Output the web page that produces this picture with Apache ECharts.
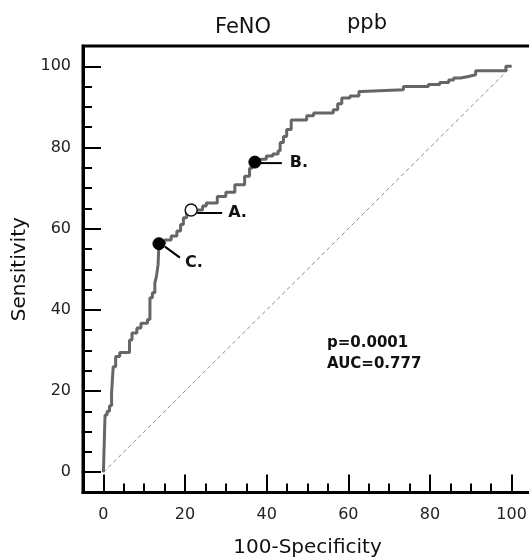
<!DOCTYPE html>
<html><head><meta charset="utf-8">
<script src="https://cdn.jsdelivr.net/npm/echarts@6/dist/echarts.min.js"></script>
<style>html,body{margin:0;padding:0;background:#fff}#c{width:529px;height:558px}</style>
</head><body><div id="c"></div>
<script>
// ROC curve vertices (100-Specificity, Sensitivity)
const rocPoints = [
 [0,0],[0.4,0],[0.4,14.1],[0.9,14.1],[0.9,15],[1.5,15],[1.5,16.4],[2.0,16.4],[2.0,19.5],[2.4,19.5],[2.4,26],[3.0,26],[3.0,28.5],[4.0,28.5],[4.0,29.5],[6.4,29.5],[6.4,32.6],[7.0,32.6],[7.0,34.3],[8.2,34.3],[8.2,35.5],[9.2,35.5],[9.2,36.7],[10.8,36.7],[10.8,37.6],[11.4,37.6],[11.4,43],[12.0,43],[12.0,44.2],[12.6,44.2],[12.6,46.6],[13.0,46.6],[13.0,48.3],[13.4,48.3],[13.4,51.2],[13.6,51.2],[13.6,56.3],
 [15.0,56.3],[15.0,57.2],[16.6,57.2],[16.6,58.2],[18.0,58.2],[18.0,59.4],[18.9,59.4],[18.9,61],[19.6,61],[19.6,62.7],[20.4,62.7],[20.4,64.6],[24.3,64.6],[24.3,65.6],[25.2,65.6],[25.2,66.3],[27.9,66.3],[27.9,67.9],[30.0,67.9],[30.0,69.0],[32.2,69.0],[32.2,70.8],[34.6,70.8],[34.6,72.9],[35.8,72.9],[35.8,74.9],[36.4,74.9],[36.4,76.4],[38.3,76.4],[38.3,77.1],[39.9,77.1],[39.9,77.9],[41.5,77.9],[41.5,78.4],[42.8,78.4],[42.8,79.2],[43.3,79.2],[43.3,81.2],[44.1,81.2],[44.1,82.7],[44.9,82.7],[44.9,84.4],[46.0,84.4],[46.0,86.8],[49.8,86.8],[49.8,87.8],[51.5,87.8],[51.5,88.5],[56.3,88.5],[56.3,89.3],[57.4,89.3],[57.4,90.8],[58.4,90.8],[58.4,92.2],[60.4,92.2],[60.4,92.7],[62.6,92.7],[62.6,93.8],[63.3,93.8],[63.3,94.2],[73.5,94.2],[73.5,95.0],[79.6,95.0],[79.6,95.5],[82.4,95.5],[82.4,96.0],[84.6,96.0],[84.6,96.6],[85.8,96.6],[85.8,97.1],[87.5,97.1],[87.5,97.5],[89.4,97.5],[89.4,97.9],[91.2,97.9],[91.2,98.9],[98.6,98.9],[98.6,100],[100,100]
];
const diagonal = [[0,0],[100,100]];
const cutLabels = ['C.','A.','B.'];
const cutX = [13.6, 21.5, 37.1];
const cutY = [56.3, 64.6, 76.4];
const cutFilled = [true, false, true];
const majorTicks = [0,20,40,60,80,100];
const minorTicks = [5,10,15,25,30,35,45,50,55,65,70,75,85,90,95];
const statsLines = ['p=0.0001','AUC=0.777'];
const titleParts = ['FeNO','ppb'];
const xName = '100-Specificity';
const yName = 'Sensitivity';

const FF = 'DejaVu Sans';
const chart = echarts.init(document.getElementById('c'), null, {renderer:'canvas'});
const gridBox = {left:83, top:46, width:449, height:446.5, outerBoundsMode:'none', containLabel:false};
const axisBase = {type:'value', min:-5, max:105, splitLine:{show:false}};
const lbl = {fontSize:16, color:'#222', fontFamily:FF};

const option = {
  animation:false,
  backgroundColor:'#fff',
  grid:[
    Object.assign({show:true, borderColor:'#000', borderWidth:3, backgroundColor:'transparent'}, gridBox),
    Object.assign({show:false}, gridBox)
  ],
  xAxis:[
    Object.assign({}, axisBase, {gridIndex:0, position:'bottom',
      axisLine:{onZero:false, lineStyle:{color:'#000', width:3}},
      axisTick:{inside:true, length:18, customValues:majorTicks, lineStyle:{color:'#000', width:2}},
      axisLabel:Object.assign({customValues:majorTicks, margin:14}, lbl),
      name:xName, nameLocation:'middle', nameGap:45,
      nameTextStyle:{fontSize:20, color:'#111', fontFamily:FF}}),
    Object.assign({}, axisBase, {gridIndex:1, position:'bottom',
      axisLine:{show:false, onZero:false},
      axisTick:{inside:true, length:9, customValues:minorTicks, lineStyle:{color:'#000', width:2}},
      axisLabel:{show:false}})
  ],
  yAxis:[
    Object.assign({}, axisBase, {gridIndex:0, position:'left',
      axisLine:{onZero:false, lineStyle:{color:'#000', width:3}},
      axisTick:{inside:true, length:18, customValues:majorTicks, lineStyle:{color:'#000', width:2}},
      axisLabel:Object.assign({customValues:majorTicks, margin:12}, lbl),
      name:yName, nameLocation:'middle', nameGap:44, nameRotate:90,
      nameTextStyle:{fontSize:20, color:'#111', fontFamily:FF}}),
    Object.assign({}, axisBase, {gridIndex:1, position:'left',
      axisLine:{show:false, onZero:false},
      axisTick:{inside:true, length:9, customValues:minorTicks, lineStyle:{color:'#000', width:2}},
      axisLabel:{show:false}})
  ],
  series:[
    {type:'line', xAxisIndex:0, yAxisIndex:0, data:diagonal, symbol:'none', silent:true, z:1,
      lineStyle:{color:'#8a8a8a', width:1, type:[4,3]}},
    {type:'line', xAxisIndex:0, yAxisIndex:0, data:rocPoints, symbol:'none', z:2,
      lineStyle:{color:'#666', width:3}},
    {type:'scatter', xAxisIndex:0, yAxisIndex:0, z:5, symbolSize:12,
      data: cutX.map((x,i)=>({value:[x, cutY[i]], itemStyle: cutFilled[i]
        ? {color:'#000', borderColor:'#000', borderWidth:1, opacity:1}
        : {color:'#fff', borderColor:'#111', borderWidth:1.5, opacity:1}}))}
  ]
};
chart.setOption(option);

// annotations: leader lines and letters placed relative to the markers
const leaderOffsets = [ [[6,3],[21,14],[26,19]], [[6,3],[31,3],[37,3]], [[5,1],[27,1],[35,1]] ];
const graphics = [];
cutLabels.forEach((t,i)=>{
  const p = chart.convertToPixel({gridIndex:0}, [cutX[i], cutY[i]]);
  const o = leaderOffsets[i];
  graphics.push({type:'line', z:4, shape:{x1:p[0]+o[0][0], y1:p[1]+o[0][1], x2:p[0]+o[1][0], y2:p[1]+o[1][1]},
    style:{stroke:'#000', lineWidth:2}});
  graphics.push({type:'text', z:6, x:p[0]+o[2][0], y:p[1]+o[2][1],
    style:{text:t, fontSize:16, fontWeight:'bold', fontFamily:FF, fill:'#111', align:'left', verticalAlign:'middle'}});
});
statsLines.forEach((t,i)=>{
  graphics.push({type:'text', z:6, x:327, y:343 + i*21,
    style:{text:t, fontSize:15, fontWeight:'bold', fontFamily:FF, fill:'#111', align:'left', verticalAlign:'middle'}});
});
graphics.push({type:'text', x:243, y:28, style:{text:titleParts[0], fontSize:21, fontFamily:FF, fill:'#111', align:'center', verticalAlign:'middle'}});
graphics.push({type:'text', x:367, y:24, style:{text:titleParts[1], fontSize:21, fontFamily:FF, fill:'#111', align:'center', verticalAlign:'middle'}});
chart.setOption({graphic:graphics});
</script>
</body></html>
